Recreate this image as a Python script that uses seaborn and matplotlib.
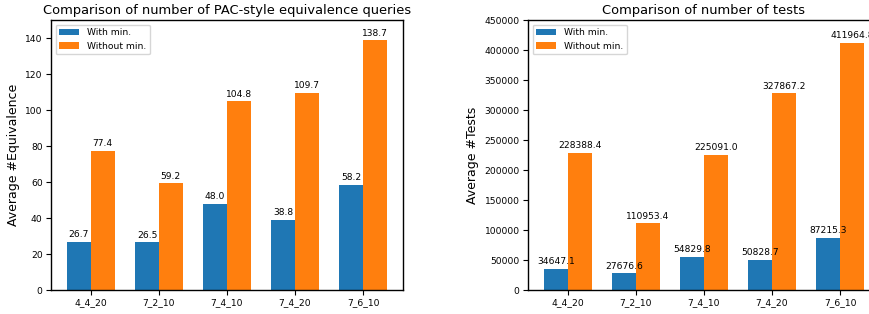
import pandas as pd
import matplotlib
matplotlib.use("Agg")
import matplotlib.pyplot as plt
import seaborn as sns

configs = ["4_4_20", "7_2_10", "7_4_10", "7_4_20", "7_6_10"]
eq_with_min = [26.7, 26.5, 48.0, 38.8, 58.2]
eq_without_min = [77.4, 59.2, 104.8, 109.7, 138.7]
tests_with_min = [34647.1, 27676.6, 54829.8, 50828.7, 87215.3]
tests_without_min = [228388.4, 110953.4, 225091.0, 327867.2, 411964.8]

sns.set_style("white", {"text.color": "black", "axes.labelcolor": "black",
                        "xtick.color": "black", "ytick.color": "black"})
plt.rcParams['font.family'] = ['DejaVu Sans']

def make_df(a, b):
    return pd.DataFrame({
        "config": configs * 2,
        "value": a + b,
        "kind": ["With min."] * len(configs) + ["Without min."] * len(configs),
    })

palette = {"With min.": "#1f77b4", "Without min.": "#ff7f0e"}

fig = plt.figure(figsize=(8.7, 3.14), dpi=100)
ax1 = fig.add_axes([51 / 870, 24 / 314, 352 / 870, 270 / 314])
ax2 = fig.add_axes([528 / 870, 24 / 314, 352 / 870, 270 / 314])

panels = [
    (ax1, eq_with_min, eq_without_min, "Comparison of number of PAC-style equivalence queries",
     "Average #Equivalence", 150),
    (ax2, tests_with_min, tests_without_min, "Comparison of number of tests",
     "Average #Tests", 450000),
]

for ax, a, b, title, ylabel, ytop in panels:
    df = make_df(a, b)
    sns.barplot(data=df, x="config", y="value", hue="kind", palette=palette,
                width=0.7, saturation=1, linewidth=0, ax=ax)
    for container in ax.containers:
        ax.bar_label(container, fmt="%.1f", padding=2, fontsize=6.6, color="black")
    # matplotlib-style 5% margins around the bars
    span = len(configs) - 1 + 0.7
    ax.set_xlim(-0.35 - 0.05 * span, len(configs) - 1 + 0.35 + 0.05 * span)
    ax.set_ylim(0, ytop)
    ax.set_title(title, fontsize=9.4, pad=4, color="black")
    ax.set_xlabel("")
    ax.set_ylabel(ylabel, fontsize=9)
    ax.tick_params(axis="both", labelsize=6.6, length=3.5, width=0.8, direction="out",
                   bottom=True, left=True, pad=2.5)
    for s in ax.spines.values():
        s.set_color("black")
        s.set_linewidth(1)
    ax.legend(loc="upper left", fontsize=6.6, frameon=True, handlelength=2.2)

fig.savefig("out.png", dpi=100)
